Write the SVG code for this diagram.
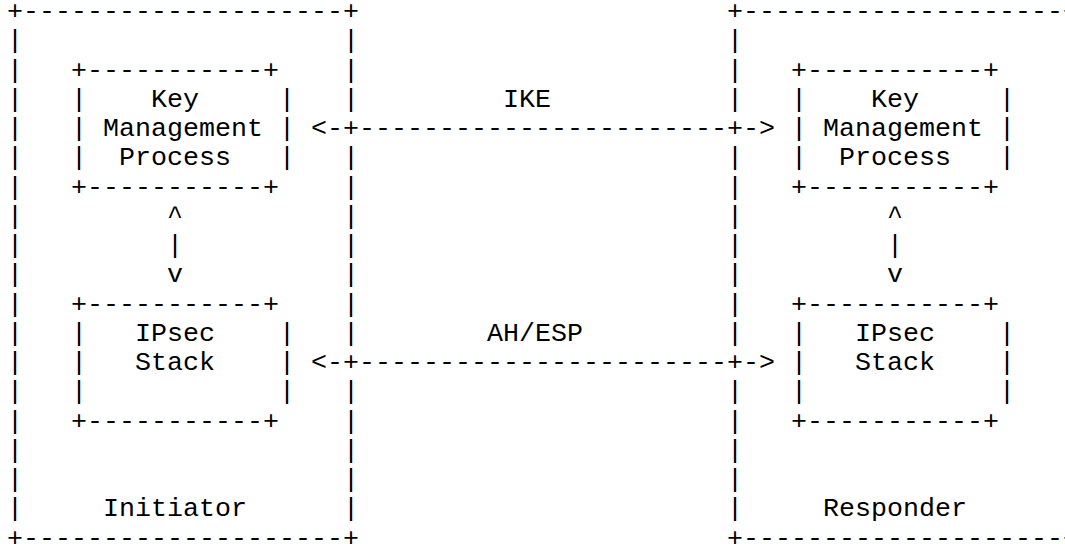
<svg xmlns="http://www.w3.org/2000/svg" width="1065" height="544" viewBox="0 0 1065 544">
<style>
text{font-family:"Courier New","Nimbus Mono PS","FreeMono","Liberation Mono",monospace;font-size:26.667px;fill:#000;white-space:pre}
</style>
<rect width="1065" height="544" fill="#fff"/>
<g id="initiator">
<text x="7" y="19">+--------------------+</text>
<text x="7" y="545.5">+--------------------+</text>
<text><tspan x="7" y="48.25">|</tspan><tspan x="7" y="77.5">|</tspan><tspan x="7" y="106.75">|</tspan><tspan x="7" y="136">|</tspan><tspan x="7" y="165.25">|</tspan><tspan x="7" y="194.5">|</tspan><tspan x="7" y="223.75">|</tspan><tspan x="7" y="253">|</tspan><tspan x="7" y="282.25">|</tspan><tspan x="7" y="311.5">|</tspan><tspan x="7" y="340.75">|</tspan><tspan x="7" y="370">|</tspan><tspan x="7" y="399.25">|</tspan><tspan x="7" y="428.5">|</tspan><tspan x="7" y="457.75">|</tspan><tspan x="7" y="487">|</tspan><tspan x="7" y="516.25">|</tspan></text>
<text><tspan x="343" y="48.25">|</tspan><tspan x="343" y="77.5">|</tspan><tspan x="343" y="106.75">|</tspan><tspan x="343" y="165.25">|</tspan><tspan x="343" y="194.5">|</tspan><tspan x="343" y="223.75">|</tspan><tspan x="343" y="253">|</tspan><tspan x="343" y="282.25">|</tspan><tspan x="343" y="311.5">|</tspan><tspan x="343" y="340.75">|</tspan><tspan x="343" y="399.25">|</tspan><tspan x="343" y="428.5">|</tspan><tspan x="343" y="457.75">|</tspan><tspan x="343" y="487">|</tspan><tspan x="343" y="516.25">|</tspan></text>
<text x="103" y="516.25">Initiator</text>
</g>
<g id="responder">
<text x="727" y="19">+--------------------+</text>
<text x="727" y="545.5">+--------------------+</text>
<text><tspan x="727" y="48.25">|</tspan><tspan x="727" y="77.5">|</tspan><tspan x="727" y="106.75">|</tspan><tspan x="727" y="165.25">|</tspan><tspan x="727" y="194.5">|</tspan><tspan x="727" y="223.75">|</tspan><tspan x="727" y="253">|</tspan><tspan x="727" y="282.25">|</tspan><tspan x="727" y="311.5">|</tspan><tspan x="727" y="340.75">|</tspan><tspan x="727" y="399.25">|</tspan><tspan x="727" y="428.5">|</tspan><tspan x="727" y="457.75">|</tspan><tspan x="727" y="487">|</tspan><tspan x="727" y="516.25">|</tspan></text>
<text x="823" y="516.25">Responder</text>
</g>
<g id="kmp-initiator">
<text x="71" y="77.5">+-----------+</text>
<text><tspan x="71" y="106.75">|</tspan><tspan x="71" y="136">|</tspan><tspan x="71" y="165.25">|</tspan><tspan x="279" y="106.75">|</tspan><tspan x="279" y="136">|</tspan><tspan x="279" y="165.25">|</tspan></text>
<text x="151" y="106.75">Key</text>
<text x="103" y="136">Management</text>
<text x="119" y="165.25">Process</text>
<text x="71" y="194.5">+-----------+</text>
</g>
<g id="ipsec-initiator">
<text x="71" y="311.5">+-----------+</text>
<text><tspan x="71" y="340.75">|</tspan><tspan x="71" y="370">|</tspan><tspan x="71" y="399.25">|</tspan><tspan x="279" y="340.75">|</tspan><tspan x="279" y="370">|</tspan><tspan x="279" y="399.25">|</tspan></text>
<text x="135" y="340.75">IPsec</text>
<text x="135" y="370">Stack</text>
<text x="71" y="428.5">+-----------+</text>
</g>
<g id="kmp-responder">
<text x="791" y="77.5">+-----------+</text>
<text><tspan x="791" y="106.75">|</tspan><tspan x="791" y="136">|</tspan><tspan x="791" y="165.25">|</tspan><tspan x="999" y="106.75">|</tspan><tspan x="999" y="136">|</tspan><tspan x="999" y="165.25">|</tspan></text>
<text x="871" y="106.75">Key</text>
<text x="823" y="136">Management</text>
<text x="839" y="165.25">Process</text>
<text x="791" y="194.5">+-----------+</text>
</g>
<g id="ipsec-responder">
<text x="791" y="311.5">+-----------+</text>
<text><tspan x="791" y="340.75">|</tspan><tspan x="791" y="370">|</tspan><tspan x="791" y="399.25">|</tspan><tspan x="999" y="340.75">|</tspan><tspan x="999" y="370">|</tspan><tspan x="999" y="399.25">|</tspan></text>
<text x="855" y="340.75">IPsec</text>
<text x="855" y="370">Stack</text>
<text x="791" y="428.5">+-----------+</text>
</g>
<g id="connectors">
<text x="311" y="136">&lt;-+-----------------------+-&gt;</text>
<text x="503" y="106.75">IKE</text>
<text x="311" y="370">&lt;-+-----------------------+-&gt;</text>
<text x="487" y="340.75">AH/ESP</text>
<text><tspan x="167" y="223.75">^</tspan><tspan x="167" y="253">|</tspan><tspan x="167" y="282.25">v</tspan></text>
<text><tspan x="887" y="223.75">^</tspan><tspan x="887" y="253">|</tspan><tspan x="887" y="282.25">v</tspan></text>
</g>
</svg>
